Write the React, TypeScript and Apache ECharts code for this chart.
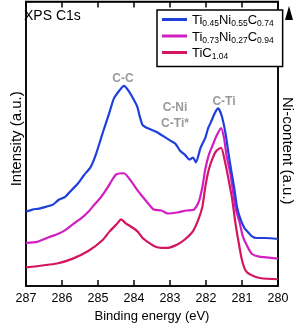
import React, { useEffect, useRef } from "react";
import * as echarts from "echarts";

const FONT = "'Liberation Sans', Arial, Helvetica, sans-serif";

const seriesNames = ["Ti0.45Ni0.55C0.74", "Ti0.73Ni0.27C0.94", "TiC1.04"];
const legendRich: Record<string, string> = {
  "Ti0.45Ni0.55C0.74": "{m|Ti}{s|0.45}{m|Ni}{s|0.55}{m|C}{s|0.74}",
  "Ti0.73Ni0.27C0.94": "{m|Ti}{s|0.73}{m|Ni}{s|0.27}{m|C}{s|0.94}",
  "TiC1.04": "{m|TiC}{s|1.04}",
};
const seriesColors = ["#1f3fdc", "#d21ec0", "#d41560"];

const xTicks = [287, 286, 285, 284, 283, 282, 281, 280];

// [binding energy (eV), intensity (a.u.)]
const tiNi055: number[][] = [
  [287.0, 76], [286.82, 78], [286.64, 79], [286.43, 81], [286.25, 83], [286.09, 88],
  [285.91, 91], [285.73, 98], [285.57, 104], [285.39, 113], [285.21, 121], [285.06, 134],
  [284.87, 156], [284.69, 176], [284.56, 191], [284.41, 199], [284.28, 204], [284.15, 199],
  [284.02, 191], [283.91, 183], [283.84, 173], [283.76, 164], [283.63, 161], [283.5, 159],
  [283.37, 157], [283.24, 154], [283.11, 151], [282.98, 148], [282.85, 145], [282.72, 138],
  [282.59, 134], [282.46, 129], [282.36, 131], [282.28, 126], [282.15, 141], [282.02, 151],
  [281.94, 161], [281.84, 169], [281.76, 176], [281.66, 181], [281.56, 173], [281.45, 154],
  [281.37, 134], [281.3, 118], [281.22, 101], [281.14, 81], [281.04, 68], [280.93, 59],
  [280.86, 56], [280.73, 51], [280.6, 49], [280.34, 49], [280.0, 48],
];
const tiNi027: number[][] = [
  [287.0, 44], [286.69, 45], [286.35, 50], [286.12, 53], [285.91, 57], [285.7, 63],
  [285.47, 69], [285.26, 76], [285.08, 84], [284.93, 90], [284.74, 100], [284.61, 108],
  [284.49, 114], [284.28, 115], [284.1, 108], [283.91, 98], [283.76, 91], [283.58, 83],
  [283.45, 78], [283.24, 77], [283.06, 74], [282.8, 75], [282.54, 77], [282.33, 78],
  [282.2, 86], [282.1, 101], [282.02, 119], [281.92, 134], [281.81, 144], [281.71, 153],
  [281.58, 161], [281.5, 151], [281.43, 133], [281.32, 114], [281.24, 94], [281.17, 78],
  [281.06, 64], [280.98, 51], [280.86, 41], [280.73, 33], [280.52, 30], [280.26, 29],
  [280.0, 28],
];
const tiC104: number[][] = [
  [287.0, 19], [286.14, 23], [285.7, 28], [285.26, 36], [284.87, 47], [284.67, 56],
  [284.46, 64], [284.36, 68], [284.23, 64], [284.1, 61], [283.91, 56], [283.76, 49],
  [283.58, 44], [283.4, 40], [283.24, 39], [283.06, 39], [282.88, 41], [282.72, 44],
  [282.54, 49], [282.36, 56], [282.2, 69], [282.1, 81], [282.02, 101], [281.92, 119],
  [281.81, 131], [281.71, 138], [281.58, 141], [281.48, 128], [281.37, 108], [281.27, 88],
  [281.19, 66], [281.11, 48], [281.01, 28], [280.93, 18], [280.86, 14], [280.67, 10],
  [280.47, 8], [280.0, 7],
];
const seriesData = [tiNi055, tiNi027, tiC104];

const peakLabels = [
  { text: "C-C", x: 123, y: 78 },
  { text: "C-Ni", x: 175, y: 107 },
  { text: "C-Ti*", x: 175, y: 123 },
  { text: "C-Ti", x: 224, y: 101 },
];

export default function App() {
  const ref = useRef<HTMLDivElement>(null);
  useEffect(() => {
    if (!ref.current) return;
    const chart = echarts.init(ref.current, null, { renderer: "svg" });
    const mkLine = () => ({ show: true, onZero: false, lineStyle: { color: "#000", width: 1.5 } });
    const mkTick = () => ({ show: true, inside: true, length: 6, lineStyle: { color: "#000", width: 1.5 } });
    chart.setOption({
      animation: false,
      grid: {
        left: 18,
        right: 15,
        top: 1.5,
        bottom: 36,
        show: true,
        borderColor: "#000",
        borderWidth: 1.5,
        backgroundColor: "transparent",
      },
      legend: {
        data: seriesNames,
        orient: "vertical",
        left: 157,
        top: 10,
        padding: [3, 9, 6, 5],
        itemGap: 2,
        itemWidth: 25,
        itemHeight: 3,
        icon: "rect",
        borderColor: "#000",
        borderWidth: 1.5,
        backgroundColor: "#fff",
        formatter: (name: string) => legendRich[name] || name,
        textStyle: {
          fontFamily: FONT,
          color: "#000",
          rich: {
            m: { fontSize: 13, lineHeight: 16, fontFamily: FONT, color: "#000" },
            s: { fontSize: 8.5, lineHeight: 6, verticalAlign: "bottom", fontFamily: FONT, color: "#000" },
          },
        },
      },
      xAxis: [
        {
          type: "value",
          inverse: true,
          min: 280,
          max: 287,
          interval: 1,
          position: "bottom",
          z: 10,
          axisLine: mkLine(),
          axisTick: mkTick(),
          axisLabel: {
            show: true,
            margin: 5,
            fontSize: 12.5,
            fontFamily: FONT,
            color: "#000",
            formatter: (v: number) => (xTicks.includes(v) ? String(v) : ""),
          },
          splitLine: { show: false },
          name: "Binding energy (eV)",
          nameLocation: "middle",
          nameGap: 22,
          nameTextStyle: { fontSize: 13, fontFamily: FONT, color: "#000" },
        },
        {
          type: "value",
          inverse: true,
          min: 280,
          max: 287,
          interval: 1,
          position: "top",
          gridIndex: 0,
          z: 10,
          axisLine: mkLine(),
          axisTick: mkTick(),
          axisLabel: { show: false },
          splitLine: { show: false },
        },
      ],
      yAxis: [
        {
          type: "value",
          min: 0,
          max: 290,
          position: "left",
          axisLine: mkLine(),
          axisTick: { show: false },
          axisLabel: { show: false },
          splitLine: { show: false },
          name: "Intensity (a.u.)",
          nameLocation: "middle",
          nameGap: 3,
          nameTextStyle: { fontSize: 15, fontFamily: FONT, color: "#000", padding: [0, 0, 0, 10] },
        },
        {
          type: "value",
          min: 0,
          max: 1,
          position: "right",
          gridIndex: 0,
          axisLine: mkLine(),
          axisTick: { show: false },
          axisLabel: { show: false },
          splitLine: { show: false },
          name: "Ni-content (a.u.)",
          nameLocation: "middle",
          nameRotate: -90,
          nameGap: 3,
          nameTextStyle: { fontSize: 15, fontFamily: FONT, color: "#000", padding: [0, 0, 0, 14] },
        },
      ],
      graphic: [
        {
          type: "text",
          left: 24,
          top: 8,
          style: { text: "XPS C1s", fontSize: 14, fontFamily: FONT, fill: "#000" },
        },
        {
          type: "polygon",
          shape: { points: [[289, 6], [285, 20], [293, 20]] },
          style: { fill: "#000" },
          z: 100,
        },
        ...peakLabels.map((p) => ({
          type: "text",
          x: p.x,
          y: p.y,
          style: {
            text: p.text,
            fontSize: 12,
            fontWeight: "bold",
            fontFamily: FONT,
            fill: "#999",
            align: "center",
            verticalAlign: "middle",
          },
        })),
      ],
      series: seriesNames.map((name, i) => ({
        name,
        type: "line",
        xAxisIndex: 0,
        yAxisIndex: 0,
        data: seriesData[i],
        showSymbol: false,
        smooth: 0.2,
        color: seriesColors[i],
        lineStyle: { width: 2.2, color: seriesColors[i] },
        z: 3 - i,
      })),
    });
    return () => chart.dispose();
  }, []);
  return (
    <div
      ref={ref}
      style={{ position: "fixed", left: 0, top: 0, width: 304, height: 327 }}
    />
  );
}
